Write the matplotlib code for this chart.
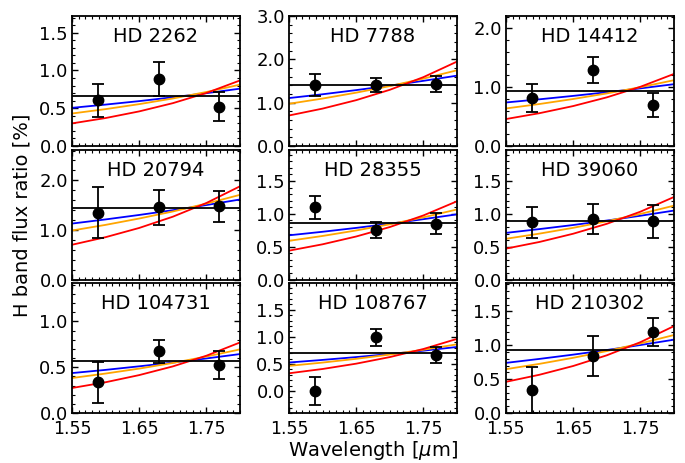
import matplotlib
matplotlib.use("Agg")
import matplotlib.pyplot as plt
from matplotlib.ticker import MultipleLocator, FormatStrFormatter

plt.rcParams['font.family'] = ['DejaVu Sans']
plt.rcParams['mathtext.fontset'] = 'dejavusans'

# ---- data ----
names = ["HD 2262", "HD 7788", "HD 14412",
         "HD 20794", "HD 28355", "HD 39060",
         "HD 104731", "HD 108767", "HD 210302"]

wl_pts = [1.589, 1.680, 1.769]

flux = [[0.605, 0.890, 0.520],
        [1.415, 1.415, 1.430],
        [0.820, 1.294, 0.700],
        [1.347, 1.453, 1.473],
        [1.097, 0.753, 0.853],
        [0.870, 0.919, 0.885],
        [0.335, 0.673, 0.520],
        [0.000, 0.994, 0.671],
        [0.338, 0.838, 1.200]]

flux_err = [[0.220, 0.225, 0.190],
            [0.250, 0.165, 0.190],
            [0.234, 0.224, 0.204],
            [0.520, 0.347, 0.317],
            [0.180, 0.125, 0.166],
            [0.235, 0.225, 0.250],
            [0.225, 0.125, 0.153],
            [0.260, 0.158, 0.143],
            [0.340, 0.293, 0.206]]

mean_flux = [0.658, 1.415, 0.938, 1.440, 0.863, 0.894, 0.564, 0.708, 0.936]

wl_model = [1.55, 1.60, 1.65, 1.70, 1.75, 1.80]

model_blue = [[0.505, 0.548, 0.594, 0.645, 0.699, 0.759],
              [1.106, 1.194, 1.290, 1.393, 1.504, 1.624],
              [0.740, 0.794, 0.852, 0.914, 0.980, 1.051],
              [1.127, 1.211, 1.301, 1.397, 1.501, 1.613],
              [0.673, 0.727, 0.786, 0.850, 0.919, 0.993],
              [0.710, 0.768, 0.830, 0.898, 0.971, 1.050],
              [0.436, 0.471, 0.510, 0.551, 0.596, 0.644],
              [0.528, 0.576, 0.628, 0.684, 0.746, 0.814],
              [0.740, 0.799, 0.862, 0.930, 1.004, 1.083]]

model_orange = [[0.430, 0.488, 0.554, 0.629, 0.715, 0.812],
                [0.974, 1.095, 1.231, 1.383, 1.555, 1.748],
                [0.638, 0.714, 0.799, 0.894, 1.000, 1.119],
                [0.987, 1.101, 1.229, 1.371, 1.530, 1.707],
                [0.589, 0.663, 0.747, 0.841, 0.947, 1.067],
                [0.620, 0.699, 0.787, 0.887, 0.999, 1.125],
                [0.382, 0.431, 0.485, 0.547, 0.617, 0.695],
                [0.466, 0.527, 0.596, 0.675, 0.763, 0.863],
                [0.647, 0.726, 0.815, 0.915, 1.027, 1.152]]

model_red = [[0.299, 0.370, 0.458, 0.567, 0.702, 0.868],
             [0.704, 0.863, 1.058, 1.297, 1.590, 1.949],
             [0.458, 0.558, 0.679, 0.827, 1.007, 1.226],
             [0.700, 0.853, 1.039, 1.266, 1.543, 1.880],
             [0.439, 0.536, 0.655, 0.799, 0.976, 1.192],
             [0.470, 0.572, 0.697, 0.848, 1.033, 1.257],
             [0.273, 0.336, 0.414, 0.509, 0.626, 0.771],
             [0.330, 0.409, 0.507, 0.628, 0.777, 0.963],
             [0.460, 0.565, 0.694, 0.852, 1.046, 1.284]]

y_limits = [(0, 1.72), (0, 3.0), (0, 2.21),
            (0, 2.62), (0, 1.98), (0, 1.98),
            (0, 1.42), (-0.4, 1.99), (0, 1.92)]
y_major = [0.5, 1.0, 1.0, 1.0, 0.5, 0.5, 0.5, 0.5, 0.5]
y_minor = [0.1, 0.2, 0.2, 0.2, 0.1, 0.1, 0.1, 0.1, 0.1]

x_ticks = [1.55, 1.65, 1.75]
x_tick_labels = ["1.55", "1.65", "1.75"]

# ---- figure ----
fig, axes = plt.subplots(3, 3, figsize=(6.85, 4.63), dpi=100)
fig.subplots_adjust(left=0.105, right=0.984, top=0.9654, bottom=0.108,
                    wspace=0.29, hspace=0.027)

for i, ax in enumerate(axes.flat):
    ax.plot(wl_model, model_blue[i], color='blue', lw=1.3, zorder=2)
    ax.plot(wl_model, model_orange[i], color='orange', lw=1.3, zorder=2)
    ax.plot(wl_model, model_red[i], color='red', lw=1.3, zorder=2)
    ax.axhline(mean_flux[i], color='black', lw=1.3, zorder=3)
    ax.errorbar(wl_pts, flux[i], yerr=flux_err[i], fmt='o', color='black',
                ms=7.5, elinewidth=1.3, capsize=4, capthick=1.3, zorder=4)
    ax.set_xlim(1.55, 1.80)
    ax.set_ylim(*y_limits[i])
    ax.set_xticks(x_ticks)
    ax.xaxis.set_minor_locator(MultipleLocator(0.01))
    ax.yaxis.set_major_locator(MultipleLocator(y_major[i]))
    ax.yaxis.set_minor_locator(MultipleLocator(y_minor[i]))
    ax.yaxis.set_major_formatter(FormatStrFormatter('%.1f'))
    if i >= 6:
        ax.set_xticklabels(x_tick_labels)
    else:
        ax.set_xticklabels([])
    ax.tick_params(which='both', direction='in', top=True, right=True,
                   labelsize=13)
    ax.tick_params(axis='x', labelsize=12.5)
    ax.tick_params(which='major', length=4, width=1.0, pad=3)
    ax.tick_params(axis='x', which='major', pad=5)
    ax.tick_params(which='minor', length=2, width=0.8)
    for sp in ax.spines.values():
        sp.set_linewidth(1.3)
    ax.text(0.5, 0.84, names[i], transform=ax.transAxes, ha='center',
            va='center', fontsize=14)

fig.text(0.032, 0.535, "H band flux ratio [%]", rotation=90, ha='center',
         va='center', fontsize=14)
fig.text(0.545, 0.002, r"Wavelength [$\mu$m]", ha='center', va='bottom',
         fontsize=14)

fig.savefig("out.png", dpi=100)
